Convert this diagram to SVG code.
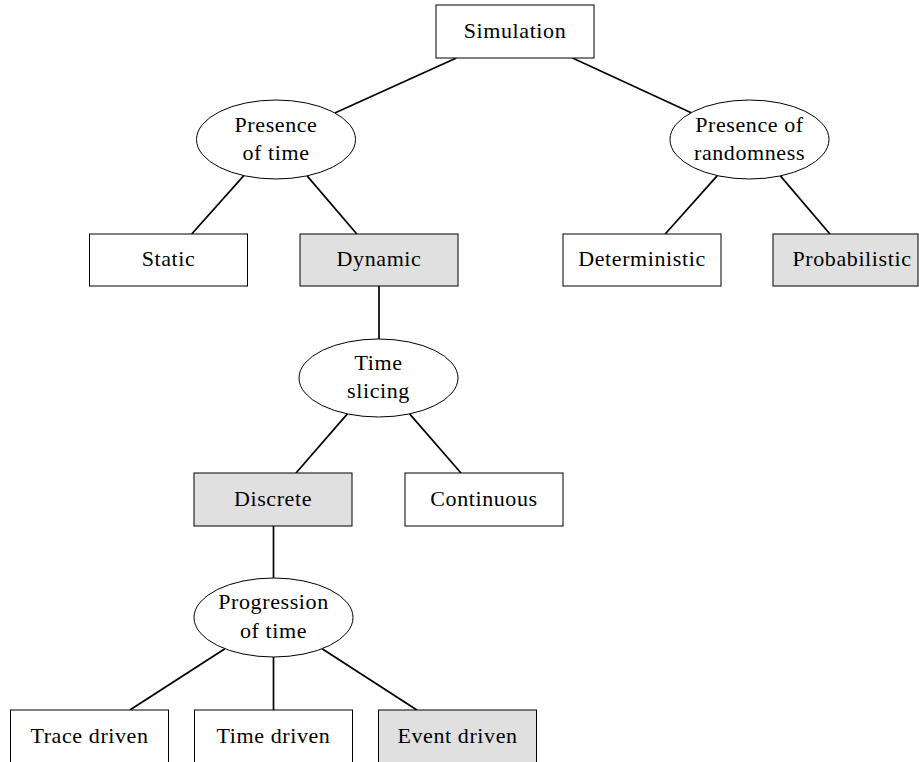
<svg xmlns="http://www.w3.org/2000/svg" width="919" height="762" viewBox="0 0 919 762">
<style>
.box{fill:#ffffff;stroke:#000;stroke-width:1}
.hl{fill:#e0e0e0}
.ell{fill:#ffffff;stroke:#000;stroke-width:1}
.lbl{font-family:"Liberation Serif","Times New Roman",serif;font-size:22px;letter-spacing:0.6px;fill:#000;text-anchor:middle}
.edge{stroke:#000;stroke-width:1.7;fill:none}
</style>
<rect width="919" height="762" fill="#ffffff"/>
<g id="connectors">
<line class="edge" x1="456.4" y1="58" x2="334.8" y2="112.9"/>
<line class="edge" x1="572.5" y1="58" x2="691.2" y2="112.7"/>
<line class="edge" x1="243.8" y1="175.6" x2="191.7" y2="234"/>
<line class="edge" x1="307.1" y1="175.9" x2="356.8" y2="234"/>
<line class="edge" x1="717.3" y1="175.6" x2="665.2" y2="234"/>
<line class="edge" x1="780.4" y1="175.9" x2="829.9" y2="234"/>
<line class="edge" x1="379" y1="286" x2="379" y2="339"/>
<line class="edge" x1="347.4" y1="413.9" x2="296" y2="473"/>
<line class="edge" x1="409.6" y1="413.9" x2="461" y2="473"/>
<line class="edge" x1="273.5" y1="526" x2="273.5" y2="578"/>
<line class="edge" x1="224.9" y1="648.8" x2="129.9" y2="710"/>
<line class="edge" x1="273.5" y1="657" x2="273.5" y2="710"/>
<line class="edge" x1="322.1" y1="648.8" x2="416.9" y2="710"/>
</g>
<g id="simulation">
<rect class="box" x="436" y="5" width="158" height="53"/>
<text class="lbl" x="515" y="37.5">Simulation</text>
</g>
<g id="presence-of-time">
<ellipse class="ell" cx="276" cy="139.5" rx="79.5" ry="39.5"/>
<text class="lbl" x="276" y="131.5">Presence</text>
<text class="lbl" x="276" y="159.5">of time</text>
</g>
<g id="presence-of-randomness">
<ellipse class="ell" cx="749.5" cy="139.5" rx="79.5" ry="39.5"/>
<text class="lbl" x="749.5" y="131.5">Presence of</text>
<text class="lbl" x="749.5" y="159.5">randomness</text>
</g>
<g id="static">
<rect class="box" x="89.5" y="234" width="158" height="52"/>
<text class="lbl" x="168.5" y="266">Static</text>
</g>
<g id="dynamic">
<rect class="box hl" x="300" y="234" width="158" height="52"/>
<text class="lbl" x="379" y="266">Dynamic</text>
</g>
<g id="deterministic">
<rect class="box" x="563" y="234" width="158" height="52"/>
<text class="lbl" x="642" y="266">Deterministic</text>
</g>
<g id="probabilistic">
<rect class="box hl" x="773" y="234" width="145" height="52"/>
<text class="lbl" x="852" y="266">Probabilistic</text>
</g>
<g id="time-slicing">
<ellipse class="ell" cx="378.5" cy="378" rx="79.5" ry="39"/>
<text class="lbl" x="378.5" y="370">Time</text>
<text class="lbl" x="378.5" y="398">slicing</text>
</g>
<g id="discrete">
<rect class="box hl" x="194" y="473" width="158" height="53"/>
<text class="lbl" x="273" y="505.5">Discrete</text>
</g>
<g id="continuous">
<rect class="box" x="405" y="473" width="158" height="53"/>
<text class="lbl" x="484" y="505.5">Continuous</text>
</g>
<g id="progression-of-time">
<ellipse class="ell" cx="273.5" cy="617.5" rx="79.5" ry="39.5"/>
<text class="lbl" x="273.5" y="609">Progression</text>
<text class="lbl" x="273.5" y="638">of time</text>
</g>
<g id="trace-driven">
<rect class="box" x="10.5" y="710" width="158" height="53"/>
<text class="lbl" x="89.5" y="742.5">Trace driven</text>
</g>
<g id="time-driven">
<rect class="box" x="194.5" y="710" width="158" height="53"/>
<text class="lbl" x="273.5" y="742.5">Time driven</text>
</g>
<g id="event-driven">
<rect class="box hl" x="378.5" y="710" width="158" height="53"/>
<text class="lbl" x="457.5" y="742.5">Event driven</text>
</g>
</svg>
